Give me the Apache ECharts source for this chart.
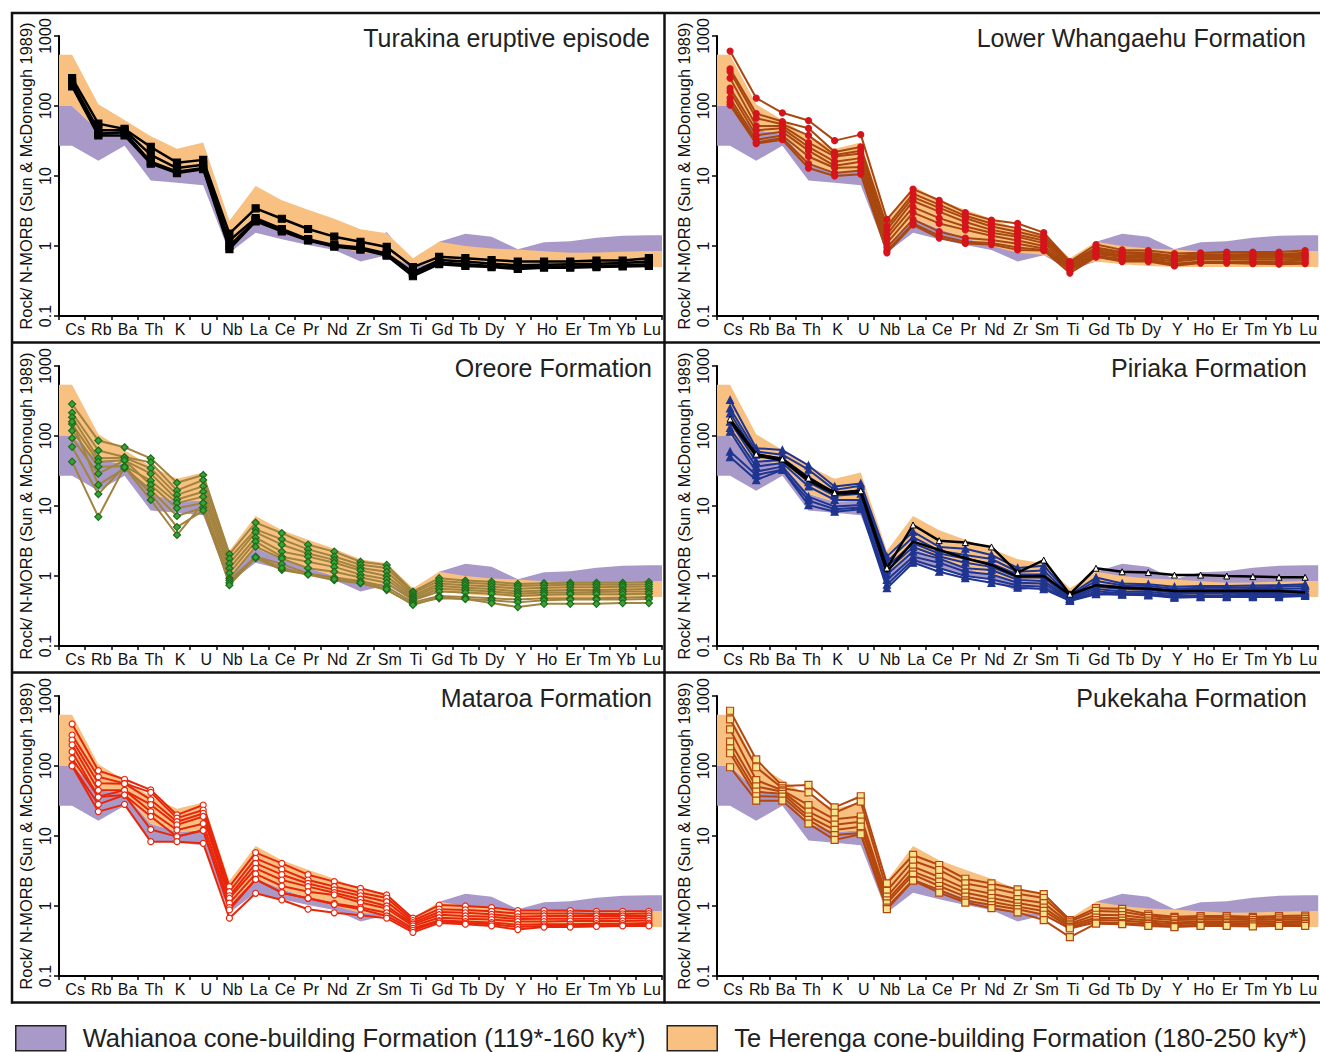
<!DOCTYPE html>
<html>
<head>
<meta charset="utf-8">
<script src="https://cdn.jsdelivr.net/npm/echarts@6/dist/echarts.min.js"></script>
<style>
html,body{margin:0;padding:0;background:#fff;}
#chart{width:1320px;height:1052px;}
</style>
</head>
<body>
<div id="chart"></div>
<script>
// ---------- DATA ----------
const ELEMENTS = ['Cs','Rb','Ba','Th','K','U','Nb','La','Ce','Pr','Nd','Zr','Sm','Ti','Gd','Tb','Dy','Y','Ho','Er','Tm','Yb','Lu'];
const Y_TICKS = [0.1, 1, 10, 100, 1000];

// Wahianoa cone-building Formation envelope (purple)
const WAH_LO = [27, 16.5, 27, 8.6, 8.0, 7.4, 0.8, 1.55, 1.25, 1.03, 0.88, 0.6, 0.74, 0.45, 0.6, 0.58, 0.55, 0.55, 0.55, 0.55, 0.55, 0.55, 0.55];
const WAH_HI = [100, 45, 40, 15, 11.5, 12, 1.0, 2.5, 1.75, 1.3, 1.0, 0.9, 1.58, 0.55, 1.15, 1.5, 1.36, 0.9, 1.13, 1.17, 1.31, 1.4, 1.43];
// Te Herenga cone-building Formation envelope (orange)
const TEH_LO = [100, 45, 40, 15, 11.5, 12, 1.0, 2.5, 1.75, 1.3, 1.0, 0.8, 0.75, 0.5, 0.6, 0.55, 0.52, 0.5, 0.5, 0.5, 0.5, 0.5, 0.5];
const TEH_HI = [540, 106, 63, 37, 24.5, 30, 2.3, 7.2, 4.5, 3.3, 2.45, 1.73, 1.52, 0.67, 1.15, 1.0, 0.92, 0.89, 0.84, 0.8, 0.81, 0.83, 0.85];

const TURAKINA = [
  [250, 56, 47, 26, 15.5, 17, 1.5, 3.45, 2.45, 1.75, 1.36, 1.15, 0.97, 0.5, 0.7, 0.67, 0.63, 0.6, 0.6, 0.6, 0.62, 0.62, 0.67],
  [220, 45, 45, 20, 13, 14.5, 1.2, 2.5, 1.75, 1.25, 1.03, 0.95, 0.78, 0.42, 0.63, 0.6, 0.56, 0.53, 0.54, 0.55, 0.56, 0.57, 0.6],
  [200, 40, 42, 16, 11.5, 13, 1.0, 2.35, 1.7, 1.22, 1.0, 0.92, 0.75, 0.4, 0.58, 0.55, 0.52, 0.5, 0.51, 0.51, 0.52, 0.53, 0.55],
  [190, 38, 38, 15, 11, 12.5, 0.9, 2.25, 1.62, 1.2, 0.98, 0.89, 0.73, 0.37, 0.55, 0.52, 0.5, 0.47, 0.49, 0.49, 0.5, 0.51, 0.52]
];
const WHANGAEHU = [
  [610, 130, 80, 62, 32, 39, 2.4, 6.5, 4.5, 3.0, 2.35, 2.1, 1.55, 0.6, 1.05, 0.88, 0.86, 0.78, 0.8, 0.82, 0.82, 0.82, 0.86],
  [340, 78, 60, 48, 22, 26, 1.9, 5.6, 3.9, 2.7, 2.1, 1.8, 1.4, 0.58, 0.95, 0.82, 0.8, 0.72, 0.76, 0.76, 0.77, 0.77, 0.8],
  [310, 67, 55, 38, 20, 23, 1.7, 5.0, 3.5, 2.5, 1.9, 1.6, 1.3, 0.57, 0.9, 0.78, 0.76, 0.7, 0.72, 0.73, 0.73, 0.74, 0.76],
  [250, 52, 52, 30, 19, 21, 1.45, 4.4, 3.1, 2.2, 1.7, 1.45, 1.2, 0.55, 0.85, 0.74, 0.73, 0.66, 0.7, 0.7, 0.7, 0.71, 0.73],
  [180, 45, 48, 26, 16, 18, 1.3, 3.6, 2.5, 1.9, 1.55, 1.35, 1.1, 0.52, 0.8, 0.72, 0.7, 0.64, 0.68, 0.68, 0.68, 0.68, 0.7],
  [160, 38, 43, 23, 14, 16, 1.1, 3.0, 2.1, 1.7, 1.4, 1.2, 1.0, 0.5, 0.76, 0.7, 0.67, 0.6, 0.65, 0.65, 0.64, 0.64, 0.66],
  [130, 33, 38, 19, 13, 13.5, 0.95, 2.4, 1.6, 1.3, 1.22, 1.08, 0.92, 0.48, 0.72, 0.66, 0.64, 0.56, 0.6, 0.6, 0.6, 0.6, 0.62],
  [115, 30, 35, 15, 11, 12, 0.85, 2.1, 1.4, 1.15, 1.1, 0.95, 0.88, 0.45, 0.7, 0.62, 0.62, 0.54, 0.58, 0.58, 0.58, 0.57, 0.58],
  [103, 29, 33, 13, 10, 10.6, 0.8, 2.0, 1.3, 1.09, 1.05, 0.88, 0.86, 0.41, 0.7, 0.6, 0.6, 0.52, 0.57, 0.57, 0.56, 0.55, 0.56]
];
const OREORE = [
  [286, 86, 69, 48, 21.5, 27.7, 2.06, 5.8, 4.1, 2.8, 2.23, 1.6, 1.44, 0.6, 0.93, 0.86, 0.83, 0.77, 0.79, 0.8, 0.8, 0.8, 0.82],
  [215, 62, 50, 42, 16.7, 23.5, 1.77, 4.64, 3.34, 2.4, 1.9, 1.45, 1.3, 0.57, 0.85, 0.8, 0.77, 0.72, 0.74, 0.75, 0.75, 0.75, 0.76],
  [185, 48, 49, 34.5, 14.4, 19.2, 1.5, 4.2, 2.8, 2.1, 1.7, 1.3, 1.15, 0.53, 0.78, 0.74, 0.71, 0.66, 0.68, 0.69, 0.69, 0.7, 0.71],
  [148, 43, 45, 29, 12.4, 16, 1.29, 3.53, 2.23, 1.89, 1.55, 1.2, 1.0, 0.5, 0.72, 0.68, 0.65, 0.6, 0.62, 0.63, 0.63, 0.64, 0.65],
  [119, 36.5, 37, 23, 11, 13.6, 1.1, 3.1, 1.89, 1.6, 1.35, 1.05, 0.9, 0.47, 0.66, 0.63, 0.6, 0.56, 0.58, 0.58, 0.59, 0.6, 0.6],
  [93, 29, 45, 20, 9.3, 11, 0.93, 2.62, 1.77, 1.29, 1.15, 0.95, 0.8, 0.45, 0.6, 0.58, 0.56, 0.52, 0.54, 0.55, 0.55, 0.55, 0.56],
  [160, 20, 34.5, 17, 7.2, 9.5, 0.87, 1.89, 1.48, 1.09, 0.95, 0.85, 0.7, 0.42, 0.52, 0.5, 0.48, 0.46, 0.48, 0.48, 0.48, 0.49, 0.5],
  [70, 14.8, 37, 15, 5, 8.6, 0.8, 1.8, 1.22, 1.05, 0.87, 0.79, 0.63, 0.4, 0.48, 0.47, 0.45, 0.42, 0.45, 0.46, 0.46, 0.46, 0.47],
  [43, 7, 36, 12.2, 3.85, 11, 0.74, 1.85, 1.3, 1.05, 0.9, 0.8, 0.65, 0.385, 0.5, 0.47, 0.41, 0.36, 0.4, 0.4, 0.4, 0.41, 0.41]
];
const PIRIAKA = [
  [327, 67, 63, 38, 19, 21, 1.89, 4.3, 2.6, 2.45, 2.0, 1.3, 1.4, 0.54, 0.95, 0.78, 0.76, 0.7, 0.72, 0.72, 0.73, 0.74, 0.76],
  [248, 60, 54, 33, 17, 19.5, 1.6, 3.6, 2.3, 2.0, 1.75, 1.15, 1.2, 0.52, 0.85, 0.74, 0.72, 0.66, 0.68, 0.68, 0.69, 0.7, 0.72],
  [211, 54, 48, 26, 15, 17, 1.36, 2.93, 2.1, 1.77, 1.5, 1.05, 1.05, 0.5, 0.75, 0.7, 0.68, 0.62, 0.64, 0.64, 0.65, 0.65, 0.67],
  [160, 43, 45, 22, 14, 15, 1.2, 2.6, 1.9, 1.55, 1.35, 0.95, 0.95, 0.48, 0.7, 0.65, 0.63, 0.58, 0.6, 0.6, 0.6, 0.61, 0.62],
  [130, 36.5, 41, 19, 12.2, 12.2, 1.05, 2.23, 1.77, 1.29, 1.22, 0.88, 0.85, 0.47, 0.65, 0.6, 0.59, 0.55, 0.57, 0.57, 0.57, 0.57, 0.59],
  [115, 31, 36.5, 13.6, 9.8, 10.3, 0.88, 1.89, 1.55, 1.15, 1.05, 0.8, 0.78, 0.45, 0.6, 0.57, 0.56, 0.52, 0.53, 0.53, 0.54, 0.54, 0.56],
  [60, 27.7, 33, 12, 9, 9.5, 0.75, 1.7, 1.3, 1.0, 0.9, 0.73, 0.7, 0.45, 0.56, 0.55, 0.54, 0.5, 0.51, 0.51, 0.52, 0.52, 0.54],
  [50, 23.5, 33, 10.3, 8.3, 9, 0.67, 1.55, 1.15, 0.93, 0.8, 0.68, 0.65, 0.44, 0.55, 0.54, 0.53, 0.49, 0.5, 0.5, 0.5, 0.5, 0.52]
];
const PIRIAKA_BLACK = [
  [175, 55, 47, 25, 15.5, 16.5, 1.3, 5.36, 3.2, 3.0, 2.6, 1.12, 1.69, 0.55, 1.29, 1.15, 1.12, 1.03, 1.03, 1.0, 0.98, 0.96, 0.96],
  [165, 52, 45, 23, 15, 15.5, 1.15, 3.1, 2.35, 1.79, 1.44, 0.98, 1.0, 0.54, 0.74, 0.68, 0.66, 0.61, 0.61, 0.61, 0.61, 0.61, 0.58]
];
const MATAROA = [
  [398, 86, 64.6, 45.5, 20, 27.7, 1.89, 5.8, 4.07, 2.8, 2.23, 1.79, 1.44, 0.67, 1.03, 1.0, 0.95, 0.86, 0.86, 0.86, 0.84, 0.84, 0.84],
  [277, 70, 56.5, 42, 18, 23.5, 1.6, 4.8, 3.34, 2.35, 1.9, 1.55, 1.3, 0.62, 0.9, 0.88, 0.84, 0.78, 0.78, 0.78, 0.77, 0.77, 0.78],
  [235, 56.5, 56, 33, 16, 21, 1.4, 4.07, 2.8, 2.1, 1.7, 1.4, 1.15, 0.58, 0.82, 0.8, 0.76, 0.7, 0.72, 0.72, 0.72, 0.72, 0.72],
  [200, 45, 45, 28, 14.4, 19, 1.29, 3.45, 2.35, 1.89, 1.55, 1.25, 1.0, 0.55, 0.75, 0.72, 0.7, 0.65, 0.66, 0.66, 0.66, 0.67, 0.67],
  [160, 36.5, 45, 22.3, 12.2, 15, 1.1, 2.87, 1.93, 1.6, 1.44, 1.12, 0.92, 0.52, 0.68, 0.66, 0.64, 0.6, 0.6, 0.61, 0.61, 0.61, 0.62],
  [128, 36, 38.5, 19, 9.8, 12.2, 0.95, 2.4, 1.55, 1.29, 1.09, 0.95, 0.8, 0.48, 0.62, 0.6, 0.58, 0.54, 0.55, 0.55, 0.56, 0.56, 0.57],
  [103, 28.3, 38.5, 12.4, 9.8, 12, 0.88, 2.4, 1.55, 1.29, 1.05, 0.9, 0.72, 0.45, 0.6, 0.57, 0.55, 0.5, 0.52, 0.52, 0.53, 0.53, 0.54],
  [100, 22.3, 28.3, 8.3, 8.3, 7.85, 0.67, 1.52, 1.22, 0.9, 0.8, 0.74, 0.67, 0.42, 0.57, 0.55, 0.52, 0.46, 0.5, 0.5, 0.51, 0.52, 0.52]
];
const PUKEKAHA = [
  [616, 124, 52, 53.6, 25.7, 37, 2.1, 5.36, 3.85, 2.45, 2.1, 1.73, 1.48, 0.63, 0.93, 0.91, 0.76, 0.7, 0.72, 0.72, 0.7, 0.72, 0.73],
  [464, 96, 48, 42, 21.5, 31, 1.65, 4.44, 3.27, 2.1, 1.8, 1.5, 1.3, 0.6, 0.85, 0.83, 0.72, 0.67, 0.68, 0.68, 0.67, 0.68, 0.69],
  [334, 63, 45, 27.7, 17.3, 19, 1.36, 3.65, 2.6, 1.77, 1.5, 1.25, 1.1, 0.56, 0.75, 0.74, 0.67, 0.63, 0.64, 0.64, 0.63, 0.64, 0.65],
  [223, 51, 43, 22.3, 14.5, 16, 1.2, 3.1, 2.23, 1.55, 1.3, 1.1, 0.95, 0.53, 0.68, 0.67, 0.62, 0.58, 0.6, 0.6, 0.59, 0.6, 0.61],
  [178, 43, 40, 19, 12.2, 13.6, 1.09, 2.8, 1.93, 1.36, 1.15, 0.98, 0.85, 0.5, 0.63, 0.62, 0.58, 0.55, 0.57, 0.57, 0.56, 0.57, 0.58],
  [152, 37, 36.5, 17, 10.3, 11, 0.95, 2.35, 1.7, 1.2, 1.03, 0.9, 0.75, 0.48, 0.58, 0.57, 0.55, 0.52, 0.54, 0.54, 0.54, 0.55, 0.55],
  [96, 32, 32, 15, 8.8, 10.6, 0.9, 2.3, 1.55, 1.12, 0.93, 0.81, 0.63, 0.36, 0.56, 0.55, 0.52, 0.5, 0.52, 0.52, 0.51, 0.52, 0.52]
];

const TITLES = ['Turakina eruptive episode', 'Lower Whangaehu Formation', 'Oreore Formation', 'Piriaka Formation', 'Mataroa Formation', 'Pukekaha Formation'];
const BAND_NAMES = ['Wahianoa cone-building Formation (119*-160 ky*)', 'Te Herenga cone-building Formation (180-250 ky*)'];
const Y_NAME = 'Rock/ N-MORB (Sun & McDonough 1989)';

// ---------- STYLE / LAYOUT ----------
const PURPLE = '#a999c9';
const ORANGE = '#f8c081';
const FONT = '"Liberation Sans", Arial, Helvetica, sans-serif';
const GRIDS = [
  {left: 59, top: 36, width: 603, height: 280},
  {left: 717, top: 36, width: 603, height: 280},
  {left: 59, top: 366, width: 603, height: 280},
  {left: 717, top: 366, width: 603, height: 280},
  {left: 59, top: 696, width: 603, height: 280},
  {left: 717, top: 696, width: 603, height: 280}
];
const TITLE_POS = [
  {right: 670, top: 25}, {right: 14, top: 25},
  {right: 668, top: 355}, {right: 13, top: 355},
  {right: 668, top: 685}, {right: 13, top: 685}
];
const PANEL_STYLES = [
  {lines: TURAKINA, color: '#000000', width: 2.5, symbol: 'rect', size: 7, fill: '#000000', border: '#000000'},
  {lines: WHANGAEHU, color: '#a8470f', width: 2, symbol: 'circle', size: 6, fill: '#d5141c', border: '#d5141c'},
  {lines: OREORE, color: '#a2833f', width: 2, symbol: 'diamond', size: 7, fill: '#35a535', border: '#1d6b1d'},
  {lines: PIRIAKA, color: '#1f3590', width: 2, symbol: 'triangle', size: 7, fill: '#1f3590', border: '#1f3590'},
  {lines: MATAROA, color: '#e8260c', width: 2, symbol: 'circle', size: 6, fill: '#ffffff', border: '#e8260c'},
  {lines: PUKEKAHA, color: '#b4470f', width: 2, symbol: 'rect', size: 7, fill: '#f6e38e', border: '#b4470f'}
];

function bandRenderer(lo, hi, color) {
  return function (params, api) {
    const n = hi.length;
    const step = api.coord([1, 1])[0] - api.coord([0, 1])[0];
    const pts = [];
    let p = api.coord([0, hi[0]]);
    pts.push([p[0] - step / 2, p[1]]);
    for (let i = 0; i < n; i++) pts.push(api.coord([i, hi[i]]));
    p = api.coord([n - 1, hi[n - 1]]);
    pts.push([p[0] + step / 2, p[1]]);
    p = api.coord([n - 1, lo[n - 1]]);
    pts.push([p[0] + step / 2, p[1]]);
    for (let i = n - 1; i >= 0; i--) pts.push(api.coord([i, lo[i]]));
    p = api.coord([0, lo[0]]);
    pts.push([p[0] - step / 2, p[1]]);
    return {type: 'polygon', shape: {points: pts}, style: {fill: color, stroke: null}};
  };
}

const grid = [], xAxis = [], yAxis = [], series = [], title = [];
for (let g = 0; g < 6; g++) {
  grid.push(Object.assign({containLabel: false}, GRIDS[g]));
  title.push(Object.assign({
    text: TITLES[g], padding: 0,
    textStyle: {fontFamily: FONT, fontSize: 25, fontWeight: 'normal', color: '#222'}
  }, TITLE_POS[g]));
  xAxis.push({
    type: 'category', gridIndex: g, data: ELEMENTS, boundaryGap: true,
    axisLine: {lineStyle: {color: '#000', width: 2}},
    axisTick: {show: true, length: 4, interval: 0, lineStyle: {color: '#000', width: 1.5}},
    axisLabel: {interval: 0, margin: 5, fontFamily: FONT, fontSize: 16, color: '#111', padding: [0, 0, 0, 6]},
    splitLine: {show: false}
  });
  yAxis.push({
    type: 'log', logBase: 10, gridIndex: g, min: 0.1, max: 1000,
    name: Y_NAME, nameLocation: 'middle', nameRotate: 90, nameGap: 25,
    nameTextStyle: {fontFamily: FONT, fontSize: 16.4, color: '#111'},
    axisLine: {show: true, lineStyle: {color: '#000', width: 2}},
    axisTick: {show: true, length: 5, lineStyle: {color: '#000', width: 1.5}},
    minorTick: {show: false},
    axisLabel: {
      rotate: 90, margin: 6, fontFamily: FONT, fontSize: 16, color: '#111',
      formatter: function (v) {
        for (const t of Y_TICKS) { if (Math.abs(v - t) / t < 1e-6) return String(t); }
        return '';
      }
    },
    splitLine: {show: false}
  });
  series.push({
    name: BAND_NAMES[0], type: 'custom', xAxisIndex: g, yAxisIndex: g,
    data: [[0, 1]], silent: true, itemStyle: {color: PURPLE},
    renderItem: bandRenderer(WAH_LO, WAH_HI, PURPLE), z: 1
  });
  series.push({
    name: BAND_NAMES[1], type: 'custom', xAxisIndex: g, yAxisIndex: g,
    data: [[0, 1]], silent: true, itemStyle: {color: ORANGE},
    renderItem: bandRenderer(TEH_LO, TEH_HI, ORANGE), z: 1
  });
  const st = PANEL_STYLES[g];
  st.lines.forEach(function (vals) {
    series.push({
      type: 'line', xAxisIndex: g, yAxisIndex: g, data: vals, silent: true,
      symbol: st.symbol, symbolSize: st.size, showSymbol: true,
      lineStyle: {color: st.color, width: st.width},
      itemStyle: {color: st.fill, borderColor: st.border, borderWidth: 1.2},
      z: 3
    });
  });
  if (g === 3) {
    PIRIAKA_BLACK.forEach(function (vals, k) {
      series.push({
        type: 'line', xAxisIndex: g, yAxisIndex: g, data: vals, silent: true,
        symbol: k === 0 ? 'triangle' : 'none', symbolSize: 6,
        lineStyle: {color: '#000', width: 2.5},
        itemStyle: {color: '#ffffff', borderColor: '#000', borderWidth: 1},
        z: 4
      });
    });
  }
}

const borderStyle = {stroke: '#111', lineWidth: 2.5};
const graphic = [
  {type: 'line', shape: {x1: 11, y1: 13, x2: 1320, y2: 13}, style: borderStyle},
  {type: 'line', shape: {x1: 11, y1: 342.5, x2: 1320, y2: 342.5}, style: borderStyle},
  {type: 'line', shape: {x1: 11, y1: 672.5, x2: 1320, y2: 672.5}, style: borderStyle},
  {type: 'line', shape: {x1: 11, y1: 1002.5, x2: 1320, y2: 1002.5}, style: borderStyle},
  {type: 'line', shape: {x1: 12, y1: 12, x2: 12, y2: 1003.5}, style: borderStyle},
  {type: 'line', shape: {x1: 664.5, y1: 12, x2: 664.5, y2: 1003.5}, style: borderStyle}
];

const chart = echarts.init(document.getElementById('chart'), null, {renderer: 'svg'});
chart.setOption({
  animation: false,
  backgroundColor: '#ffffff',
  title: title,
  grid: grid,
  xAxis: xAxis,
  yAxis: yAxis,
  series: series,
  graphic: graphic,
  legend: {
    data: BAND_NAMES, left: 15, top: 1025, padding: 0,
    icon: 'rect', itemWidth: 50, itemHeight: 25, itemGap: 21,
    selectedMode: false,
    itemStyle: {borderColor: '#222', borderWidth: 1.5},
    textStyle: {fontFamily: FONT, fontSize: 25.5, color: '#222', padding: [0, 0, 0, 12]}
  }
});
</script>
</body>
</html>
